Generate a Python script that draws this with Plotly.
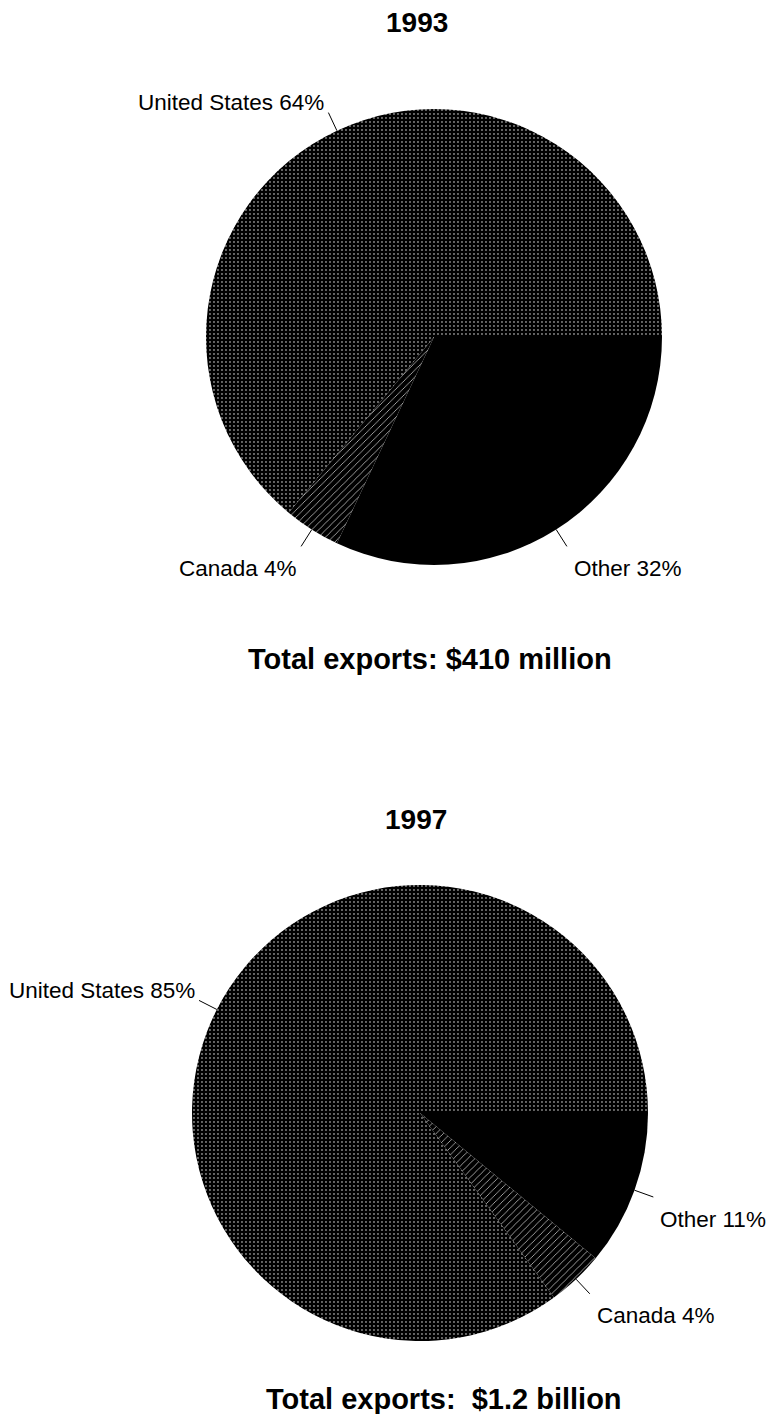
import math
import plotly.graph_objects as go

# ---- data ----
categories = ["Other", "Canada", "United States"]
shares_1993 = [32, 4, 64]
shares_1997 = [11, 4, 85]
years = ["1993", "1997"]
totals = ["Total exports: $410 million", "Total exports:\u00a0 $1.2 billion"]

# ---- layout geometry (pixels, figure is 777 x 1414) ----
W, H = 777, 1414
panels = [
    dict(values=shares_1993, year=years[0], total=totals[0],
         cx=434, cy=337, r=228, year_xy=(417, 22), total_xy=(430, 659)),
    dict(values=shares_1997, year=years[1], total=totals[1],
         cx=420, cy=1113, r=228, year_xy=(416, 819), total_xy=(444, 1399)),
]

FONT = "Liberation Sans, Arial, sans-serif"
pattern_shape = {"Other": "", "Canada": "/", "United States": "."}
pattern_size = {"Other": 4, "Canada": 5, "United States": 4}
pattern_solid = {"Other": 0.3, "Canada": 0.12, "United States": 0.1}

fig = go.Figure()
annotations = []

for p in panels:
    cx, cy, r = p["cx"], p["cy"], p["r"]
    fig.add_trace(go.Pie(
        values=p["values"], labels=categories, sort=False,
        direction="clockwise", rotation=90,
        textinfo="none", hoverinfo="skip", showlegend=False,
        domain=dict(x=[(cx - r) / W, (cx + r) / W],
                    y=[(H - cy - r) / H, (H - cy + r) / H]),
        marker=dict(
            colors=["black"] * len(categories),
            line=dict(width=0),
            pattern=dict(
                shape=[pattern_shape[c] for c in categories],
                size=[pattern_size[c] for c in categories],
                solidity=[pattern_solid[c] for c in categories],
                fgcolor="white", bgcolor="black", fillmode="replace",
            ),
        ),
    ))

    # leader lines + labels computed from the slice angles
    total = sum(p["values"])
    cum = 0
    lx, ly = [], []
    for cat, v in zip(categories, p["values"]):
        theta = math.radians((cum + v / 2) / total * 360)
        cum += v
        c, s = math.cos(theta), math.sin(theta)
        x0, y0 = cx + r * c, cy + r * s
        x1, y1 = cx + (r + 20) * c, cy + (r + 20) * s
        lx += [x0, x1, None]
        ly += [y0, y1, None]
        right = c > 0
        annotations.append(dict(
            text=f"{cat} {v}%", xref="x", yref="y",
            x=x1 + 5 if right else x1 - 2,
            y=y1 + (22 if s > 0 else -10),
            xanchor="left" if right else "right", yanchor="middle",
            showarrow=False, font=dict(family=FONT, size=22.5, color="black"),
        ))
    fig.add_trace(go.Scatter(x=lx, y=ly, mode="lines",
                             line=dict(color="black", width=1),
                             hoverinfo="skip", showlegend=False))

    annotations.append(dict(
        text=p["year"], xref="x", yref="y", x=p["year_xy"][0], y=p["year_xy"][1],
        xanchor="center", yanchor="middle", showarrow=False,
        font=dict(family=FONT, size=28, color="black", weight="bold")))
    annotations.append(dict(
        text=p["total"], xref="x", yref="y", x=p["total_xy"][0], y=p["total_xy"][1],
        xanchor="center", yanchor="middle", showarrow=False,
        font=dict(family=FONT, size=29, color="black", weight="bold")))

fig.update_layout(
    width=W, height=H,
    margin=dict(l=0, r=0, t=0, b=0),
    paper_bgcolor="white", plot_bgcolor="rgba(0,0,0,0)",
    xaxis=dict(range=[0, W], domain=[0, 1], visible=False, fixedrange=True),
    yaxis=dict(range=[H, 0], domain=[0, 1], visible=False, fixedrange=True),
    annotations=annotations,
    showlegend=False,
)

fig.write_html("out.html", config={"displayModeBar": False},
               post_script="document.body.style.margin='0';")
